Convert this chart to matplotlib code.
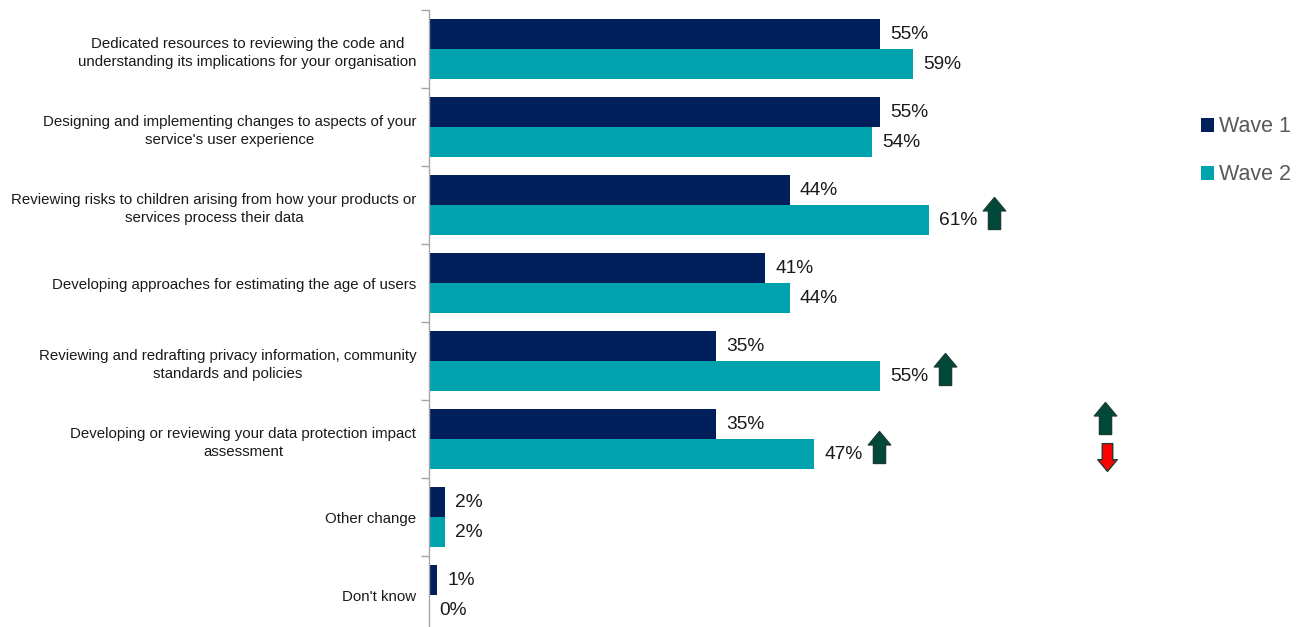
import matplotlib
matplotlib.use("Agg")
import matplotlib.pyplot as plt
import numpy as np
from matplotlib.path import Path
from matplotlib.patches import Patch

plt.rcParams['font.family'] = ['Liberation Sans', 'DejaVu Sans']

categories = [
    "Dedicated resources to reviewing the code and\nunderstanding its implications for your organisation",
    "Designing and implementing changes to aspects of your\nservice's user experience",
    "Reviewing risks to children arising from how your products or\nservices process their data",
    "Developing approaches for estimating the age of users",
    "Reviewing and redrafting privacy information, community\nstandards and policies",
    "Developing or reviewing your data protection impact\nassessment",
    "Other change",
    "Don't know",
]
wave1 = [55, 55, 44, 41, 35, 35, 2, 1]
wave2 = [59, 54, 61, 44, 55, 47, 2, 0]
# significant increase in Wave 2 vs Wave 1
sig_up = [False, False, True, False, True, True, False, False]

c_w1 = "#001F5B"
c_w2 = "#00A2AE"
c_up = "#00483A"
c_up_edge = "#1E3B33"
c_down = "#FF0000"

fig = plt.figure(figsize=(13.04, 6.27), dpi=100)
W, H = 1304, 627
x0, x1 = 429, 1150
y_top, y_bot = 10, 634
ax = fig.add_axes([x0 / W, 1 - y_bot / H, (x1 - x0) / W, (y_bot - y_top) / H])
px_per_pct = 451 / 55
ax.set_xlim(0, (x1 - x0) / px_per_pct)

n = len(categories)
y = np.arange(n)
bh = 30 / 78
ax.barh(y - bh / 2, wave1, height=bh, color=c_w1)
ax.barh(y + bh / 2, wave2, height=bh, color=c_w2)
ax.set_ylim(n - 0.5, -0.5)

off = 10 / px_per_pct
for i in range(n):
    ax.text(wave1[i] + off, y[i] - bh / 2, f"{wave1[i]}%", va="center", ha="left",
            fontsize=13.8, color="#1a1a1a")
    ax.text(wave2[i] + off, y[i] + bh / 2, f"{wave2[i]}%", va="center", ha="left",
            fontsize=13.8, color="#1a1a1a")

# arrow marker shape
up_verts = [(-0.19, -0.5), (-0.19, 0.08), (-0.35, 0.08), (0.0, 0.5),
            (0.35, 0.08), (0.19, 0.08), (0.19, -0.5), (-0.19, -0.5)]
up_path = Path(up_verts, closed=True)
down_path = Path([(vx, -vy) for vx, vy in up_verts], closed=True)

arrow_off = 65 / px_per_pct
for i in range(n):
    if sig_up[i]:
        ax.plot(wave2[i] + arrow_off, y[i] + bh / 2 - 0.09, marker=up_path, markersize=23,
                color=c_up, markeredgecolor=c_up_edge, markeredgewidth=1, clip_on=False)

# key for the arrows
ax_key = fig.add_axes([0, 0, 1, 1], facecolor="none")
ax_key.set_xlim(0, W)
ax_key.set_ylim(H, 0)
ax_key.axis("off")
ax_key.plot(1105, 418, marker=up_path, markersize=23, color=c_up,
            markeredgecolor=c_up_edge, markeredgewidth=1)
ax_key.plot(1107, 457, marker=down_path, markersize=20, color=c_down,
            markeredgecolor=c_up_edge, markeredgewidth=1)

ax.set_yticks(y)
ax.set_yticklabels(categories, fontsize=10.8, color="#1a1a1a", linespacing=1.42,
                   multialignment="center")
ax.set_yticks(np.arange(-0.5, n, 1), minor=True)
ax.tick_params(axis="y", which="major", length=0, pad=9)
ax.tick_params(axis="y", which="minor", length=6, color="#A6A6A6", width=1)
ax.xaxis.set_visible(False)
for s in ["top", "right", "bottom"]:
    ax.spines[s].set_visible(False)
ax.spines["left"].set_color("#A6A6A6")
ax.spines["left"].set_linewidth(1)

handles = [Patch(facecolor=c_w1, label="Wave 1"), Patch(facecolor=c_w2, label="Wave 2")]
fig.legend(handles=handles, loc="upper left", bbox_to_anchor=(1182 / W, 1 - 97 / H),
           frameon=False, fontsize=15.5, labelcolor="#595959", handlelength=0.6,
           handleheight=0.6, handletextpad=0.2, labelspacing=1.25)

fig.savefig("out.png", dpi=100)
